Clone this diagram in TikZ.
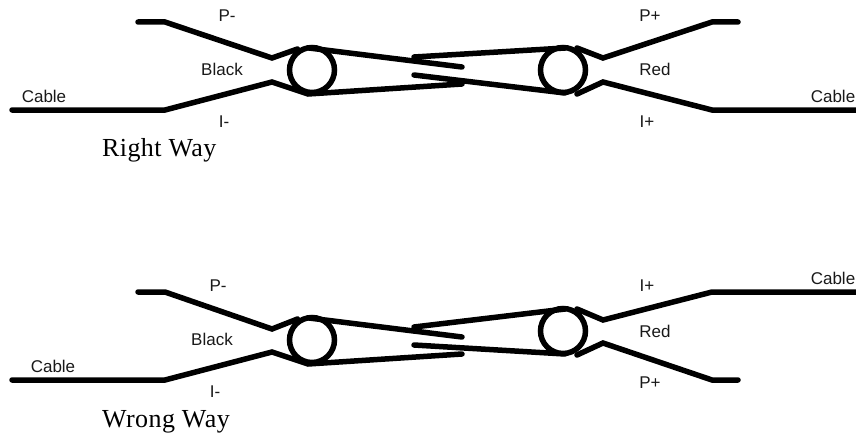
\documentclass[tikz,border=0pt]{standalone}
\usepackage{fontspec}
\setmainfont{Liberation Sans}
\newfontfamily\serifcap[LetterSpace=1.6]{Liberation Serif}
\begin{document}
\begin{tikzpicture}[x=1pt,y=-1pt,
  wire/.style={draw=black,line width=5.5pt,line cap=round,line join=miter},
  ring/.style={circle,draw=black,line width=5.5pt,minimum size=45pt,inner sep=0pt,fill=none},
  lab/.style={font=\fontsize{17}{19}\selectfont,inner sep=0pt,text=black!90},
  waytitle/.style={font=\serifcap\fontsize{26}{28}\selectfont,inner sep=0pt,anchor=base west}]
\useasboundingbox (0,0) rectangle (856,436);
% --- right way
\node[ring] (c1) at (312,70) {};
\node[ring] (c2) at (563,70) {};
\coordinate (a1) at (138,22); \coordinate (a2) at (165,22); \coordinate (a3) at (272,58); \coordinate (a4) at (297.5,49);
\coordinate (a5) at (12,110); \coordinate (a6) at (165,110); \coordinate (a7) at (272,82); \coordinate (a8) at (308,94); \coordinate (a9) at (462,84);
\coordinate (a10) at (309,48); \coordinate (a11) at (462,67);
\coordinate (b1) at (414,57); \coordinate (b2) at (565,48);
\coordinate (b3) at (414,75); \coordinate (b4) at (565,93);
\coordinate (b5) at (577,48); \coordinate (b6) at (603,58); \coordinate (b7) at (712,22); \coordinate (b8) at (738,22);
\coordinate (b9) at (577,94); \coordinate (b10) at (603,82); \coordinate (b11) at (712,110); \coordinate (b12) at (858,110);
\draw[wire] (a1) -- (a2) -- (a3) -- (a4);
\draw[wire] (a5) -- (a6) -- (a7) -- (a8) -- (a9);
\draw[wire] (a10) -- (a11);
\draw[wire] (b1) -- (b2);
\draw[wire] (b3) -- (b4);
\draw[wire] (b5) -- (b6) -- (b7) -- (b8);
\draw[wire] (b9) -- (b10) -- (b11) -- (b12);
\node[lab] (t1) at (227,16) {P-};
\node[lab] (t2) at (222,69) {Black};
\node[lab] (t3) at (224,122) {I-};
\node[lab] (t4) at (44,96) {Cable};
\node[lab] (t5) at (650,16) {P+};
\node[lab] (t6) at (655,69) {Red};
\node[lab] (t7) at (647,122) {I+};
\node[lab] (t8) at (833,96) {Cable};
\node[waytitle] (t9) at (102,156) {Right Way};
% --- wrong way
\node[ring] (c3) at (312,340) {};
\node[ring] (c4) at (563,331) {};
\coordinate (d1) at (138,292); \coordinate (d2) at (165,292); \coordinate (d3) at (272,329); \coordinate (d4) at (297.5,319);
\coordinate (d5) at (12,380); \coordinate (d6) at (165,380); \coordinate (d7) at (272,352); \coordinate (d8) at (308,364); \coordinate (d9) at (462,354);
\coordinate (d10) at (309,318); \coordinate (d11) at (462,337);
\coordinate (e1) at (414,327); \coordinate (e2) at (565,309);
\coordinate (e3) at (414,345); \coordinate (e4) at (565,354);
\coordinate (e5) at (577,309); \coordinate (e6) at (603,320); \coordinate (e7) at (712,292); \coordinate (e8) at (858,292);
\coordinate (e9) at (577,355); \coordinate (e10) at (603,343); \coordinate (e11) at (712,380); \coordinate (e12) at (738,380);
\draw[wire] (d1) -- (d2) -- (d3) -- (d4);
\draw[wire] (d5) -- (d6) -- (d7) -- (d8) -- (d9);
\draw[wire] (d10) -- (d11);
\draw[wire] (e1) -- (e2);
\draw[wire] (e3) -- (e4);
\draw[wire] (e5) -- (e6) -- (e7) -- (e8);
\draw[wire] (e9) -- (e10) -- (e11) -- (e12);
\node[lab] (u1) at (218,286) {P-};
\node[lab] (u2) at (212,339) {Black};
\node[lab] (u3) at (215,392) {I-};
\node[lab] (u4) at (53,366) {Cable};
\node[lab] (u5) at (647,286) {I+};
\node[lab] (u6) at (655,331) {Red};
\node[lab] (u7) at (650,383) {P+};
\node[lab] (u8) at (833,278) {Cable};
\node[waytitle] (u9) at (102,427) {Wrong Way};
\end{tikzpicture}
\end{document}
